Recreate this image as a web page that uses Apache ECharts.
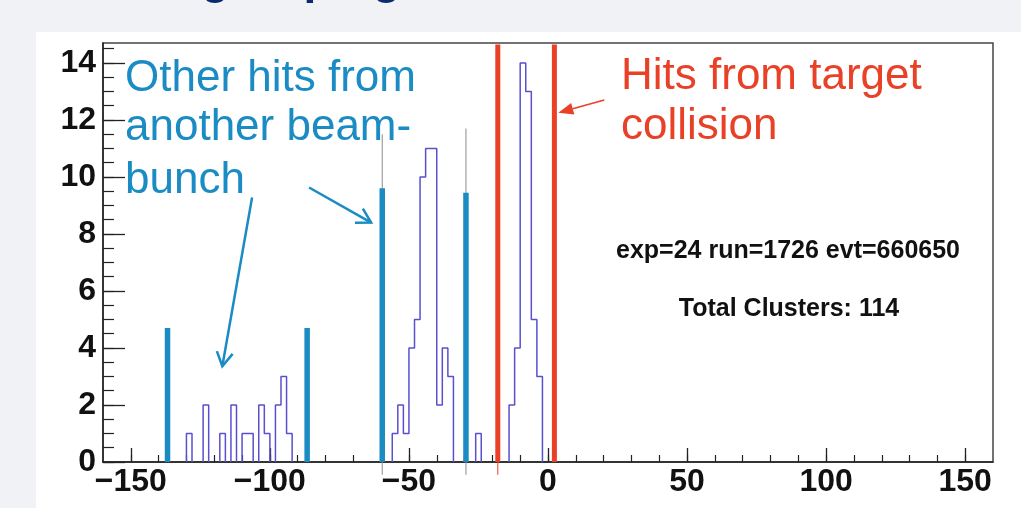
<!DOCTYPE html>
<html><head><meta charset="utf-8">
<script src="https://cdn.jsdelivr.net/npm/echarts@6/dist/echarts.min.js"></script>
<style>
html,body{margin:0;padding:0;background:#f0f2f6;width:1021px;height:508px;overflow:hidden;}
#panel{position:absolute;left:36px;top:32px;width:985px;height:476px;background:#ffffff;}
#chart{position:absolute;left:0;top:0;width:1021px;height:508px;}
</style></head><body>
<div id="panel"></div>
<div id="chart"></div>
<script>
// ---- data ----
const binStart = -130;      // left edge of first bin
const binWidth = 2;
const counts = [
  1,0,0,2,0,0,1,0,2,0,1,1,0,2,1,0,2,3,1,   // -130 .. -94
  0,0,0,0,0,0,0,0,0,0,0,0,0,0,0,0,0,0,      // -92 .. -58
  1,2,1,4,5,10,11,11,2,4,3,                // -56 .. -36
  0,0,0,0,1,0,0,0,0,0,                     // -34 .. -16
  2,4,14,13,5,3                            // -14 .. -4
];
const xMajor = [-150,-100,-50,0,50,100,150];
const xMinor = [-150,-140,-130,-120,-110,-100,-90,-80,-70,-60,-50,-40,-30,-20,-10,0,10,20,30,40,50,60,70,80,90,100,110,120,130,140,150];
const yMajor = [0,2,4,6,8,10,12,14];
const yMinor = [0,0.5,1,1.5,2,2.5,3,3.5,4,4.5,5,5.5,6,6.5,7,7.5,8,8.5,9,9.5,10,10.5,11,11.5,12,12.5,13,13.5,14,14.5];
// annotation bars
const blueX = [-136.8, -86.6, -59.6, -29.5];
const blueTop = [4.7, 4.7, 9.6, 9.45];
const redX = [-18.05, 2.3];
const thinX = [-59.6, -29.5, -18.05];
const thinLo = [-0.45, -0.45, -0.45];
const thinHi = [11.5, 11.7, 0];
const thinColor = ['#8c8c8c', '#8c8c8c', '#e84127'];
const statsText = ['exp=24 run=1726 evt=660650', 'Total Clusters: 114'];

const X_MIN = -160, X_MAX = 160, Y_MIN = 0, Y_MAX = 14.7;
const BLUE = '#1b8bc4', RED = '#e84127', HIST = '#5a4fcf';

// build histogram runs (outline of non-zero bin groups)
const runs = [];
let cur = null;
counts.forEach((v, i) => {
  const lo = binStart + i * binWidth, hi = lo + binWidth;
  if (v > 0) {
    if (!cur) { cur = [[lo, 0]]; }
    cur.push([lo, v]); cur.push([hi, v]);
  } else if (cur) {
    cur.push([lo, 0]); runs.push(cur); cur = null;
  }
});
if (cur) { const last = cur[cur.length - 1]; cur.push([last[0], 0]); runs.push(cur); }

const chart = echarts.init(document.getElementById('chart'), null, {renderer: 'canvas'});
const fmt = v => (v < 0 ? '\u2212' + Math.abs(v) : String(v));
const labelFont = {fontFamily: 'Liberation Sans', fontWeight: 'bold', fontSize: 32, color: '#111'};

const series = runs.map(r => ({
  type: 'line', xAxisIndex: 0, yAxisIndex: 0, data: r, symbol: 'none', showSymbol: false,
  lineStyle: {color: HIST, width: 1.5}, silent: true, z: 3, animation: false
}));

series.push({
  type: 'custom', xAxisIndex: 0, yAxisIndex: 0, z: 4, silent: true, clip: false,
  data: thinX.map((x, i) => [x, thinLo[i], thinHi[i], i]),
  renderItem: (p, api) => {
    const a = api.coord([api.value(0), api.value(1)]);
    const b = api.coord([api.value(0), api.value(2)]);
    return {type: 'line', shape: {x1: a[0], y1: a[1], x2: b[0], y2: b[1]},
      style: {stroke: thinColor[api.value(3)], lineWidth: 1}};
  }
});
series.push({
  type: 'custom', xAxisIndex: 0, yAxisIndex: 0, z: 5, silent: true,
  data: blueX.map((x, i) => [x, blueTop[i]]),
  renderItem: (p, api) => {
    const a = api.coord([api.value(0), 0]);
    const b = api.coord([api.value(0), api.value(1)]);
    return {type: 'line', shape: {x1: a[0], y1: a[1], x2: b[0], y2: b[1]},
      style: {stroke: BLUE, lineWidth: 5.5}};
  }
});
series.push({
  type: 'custom', xAxisIndex: 0, yAxisIndex: 0, z: 5, silent: true,
  data: redX.map(x => [x, Y_MAX - 0.05]),
  renderItem: (p, api) => {
    const a = api.coord([api.value(0), 0]);
    const b = api.coord([api.value(0), api.value(1)]);
    return {type: 'line', shape: {x1: a[0], y1: a[1], x2: b[0], y2: b[1]},
      style: {stroke: RED, lineWidth: 5}};
  }
});

const option = {
  animation: false,
  backgroundColor: 'transparent',
  grid: {left: 103, top: 43, width: 890, height: 419, show: true, borderColor: '#444', borderWidth: 1.5, backgroundColor: 'transparent', containLabel: false},
  xAxis: [
    {type: 'value', min: X_MIN, max: X_MAX, position: 'bottom',
     axisLine: {show: true, onZero: false, lineStyle: {color: '#222', width: 1.5}},
     axisTick: {show: true, inside: true, length: 14, customValues: xMajor, lineStyle: {color: '#222', width: 1.3}},
     axisLabel: Object.assign({customValues: xMajor, formatter: fmt, margin: 4}, labelFont),
     splitLine: {show: false}},
    {type: 'value', min: X_MIN, max: X_MAX, position: 'bottom', gridIndex: 0,
     axisLine: {show: false, onZero: false},
     axisTick: {show: true, inside: true, length: 7, customValues: xMinor, lineStyle: {color: '#222', width: 1.2}},
     axisLabel: {show: false}, splitLine: {show: false}}
  ],
  yAxis: [
    {type: 'value', min: Y_MIN, max: Y_MAX, position: 'left',
     axisLine: {show: true, onZero: false, lineStyle: {color: '#222', width: 1.5}},
     axisTick: {show: true, inside: true, length: 22, customValues: yMajor, lineStyle: {color: '#222', width: 1.3}},
     axisLabel: Object.assign({customValues: yMajor, margin: 7}, labelFont),
     splitLine: {show: false}},
    {type: 'value', min: Y_MIN, max: Y_MAX, position: 'left', gridIndex: 0,
     axisLine: {show: false, onZero: false},
     axisTick: {show: true, inside: true, length: 11, customValues: yMinor, lineStyle: {color: '#222', width: 1.2}},
     axisLabel: {show: false}, splitLine: {show: false}}
  ],
  series: series
};
chart.setOption(option);

// ---- annotations ----
const px = (x, y) => chart.convertToPixel({xAxisIndex: 0, yAxisIndex: 0}, [x, y]);
const els = [];
function txt(x, y, s, font, fill, align) {
  els.push({type: 'text', x: x, y: y, silent: true, z: 10,
    style: {text: s, font: font, fill: fill, textAlign: align || 'left', align: align || 'left', textVerticalAlign: 'middle', verticalAlign: 'middle'}});
}
function arrow(d0, d1, color, w, headLen, headW, filled) {
  const p0 = px(d0[0], d0[1]), p1 = px(d1[0], d1[1]);
  const dx = p1[0] - p0[0], dy = p1[1] - p0[1], L = Math.hypot(dx, dy);
  const ux = dx / L, uy = dy / L, nx = -uy, ny = ux;
  const b = [p1[0] - ux * headLen, p1[1] - uy * headLen];
  const l = [b[0] + nx * headW, b[1] + ny * headW], r = [b[0] - nx * headW, b[1] - ny * headW];
  const end = filled ? b : p1;
  els.push({type: 'line', silent: true, z: 10, shape: {x1: p0[0], y1: p0[1], x2: end[0], y2: end[1]}, style: {stroke: color, lineWidth: w}});
  if (filled) els.push({type: 'polygon', silent: true, z: 10, shape: {points: [p1, l, r]}, style: {fill: color}});
  else els.push({type: 'polyline', silent: true, z: 10, shape: {points: [l, p1, r]}, style: {stroke: color, lineWidth: w, lineJoin: 'miter'}});
}
// cut-off slide title (only descenders visible)
txt(82, -19.5, 'Time grouping', 'bold 46px "Liberation Sans"', '#0c2a6e', 'left');
const annFont = '44px "Liberation Sans"';
txt(125, 79, 'Other hits from', annFont, BLUE);
txt(125, 128, 'another beam-', annFont, BLUE);
txt(125, 181, 'bunch', annFont, BLUE);
txt(621, 77, 'Hits from target', annFont, RED);
txt(621, 127, 'collision', annFont, RED);
txt(788, 251, statsText[0], 'bold 25px "Liberation Sans"', '#111', 'center');
txt(789, 309, statsText[1], 'bold 25px "Liberation Sans"', '#111', 'center');
arrow([-106.4, 9.28], [-117.1, 3.36], BLUE, 2.5, 14, 8, false);
arrow([-85.9, 9.63], [-63.6, 8.4], BLUE, 2.5, 14, 8, false);
arrow([20.25, 12.7], [3.7, 12.25], RED, 1.6, 15, 6, true);
chart.setOption({graphic: {elements: els}});
</script>
</body></html>
